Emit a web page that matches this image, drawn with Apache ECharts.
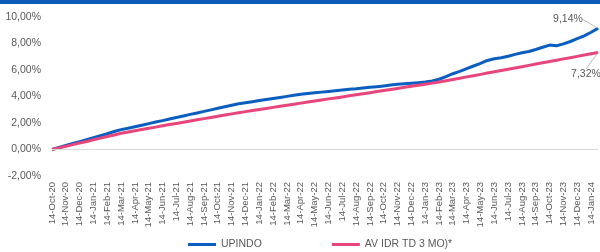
<!DOCTYPE html>
<html>
<head>
<meta charset="utf-8">
<script src="https://cdn.jsdelivr.net/npm/echarts@6/dist/echarts.min.js"></script>
<style>
  html, body { margin: 0; padding: 0; background: #fff; }
  #chart { width: 600px; height: 252px; }
</style>
</head>
<body>
<div id="chart"></div>
<script>
// monthly tick labels (one data point mid-month between each)
const months = [
  '14-Oct-20', '14-Nov-20', '14-Dec-20',
  '14-Jan-21', '14-Feb-21', '14-Mar-21', '14-Apr-21', '14-May-21', '14-Jun-21',
  '14-Jul-21', '14-Aug-21', '14-Sep-21', '14-Oct-21', '14-Nov-21', '14-Dec-21',
  '14-Jan-22', '14-Feb-22', '14-Mar-22', '14-Apr-22', '14-May-22', '14-Jun-22',
  '14-Jul-22', '14-Aug-22', '14-Sep-22', '14-Oct-22', '14-Nov-22', '14-Dec-22',
  '14-Jan-23', '14-Feb-23', '14-Mar-23', '14-Apr-23', '14-May-23', '14-Jun-23',
  '14-Jul-23', '14-Aug-23', '14-Sep-23', '14-Oct-23', '14-Nov-23', '14-Dec-23',
  '14-Jan-24'
]

const upindo = [
  0.00, 0.15, 0.30, 0.45, 0.59, 0.74, 0.89, 1.04, 1.19, 1.36,
  1.50, 1.60, 1.72, 1.83, 1.95, 2.07, 2.18, 2.30, 2.42, 2.53,
  2.65, 2.76, 2.88, 2.99, 3.11, 3.22, 3.34, 3.45, 3.53, 3.61,
  3.69, 3.77, 3.85, 3.93, 4.01, 4.09, 4.17, 4.23, 4.28, 4.33,
  4.38, 4.43, 4.49, 4.55, 4.58, 4.64, 4.69, 4.74, 4.80, 4.87,
  4.93, 4.96, 5.00, 5.04, 5.09, 5.18, 5.30, 5.50, 5.72, 5.90,
  6.10, 6.30, 6.50, 6.72, 6.85, 6.92, 7.04, 7.18, 7.30, 7.40,
  7.55, 7.72, 7.88, 7.83, 7.97, 8.15, 8.36, 8.58, 8.85, 9.14
]

const avTd = [
  0.00, 0.12, 0.24, 0.37, 0.49, 0.61, 0.73, 0.86, 0.98, 1.10,
  1.22, 1.32, 1.41, 1.51, 1.60, 1.69, 1.79, 1.88, 1.97, 2.06,
  2.15, 2.24, 2.33, 2.42, 2.51, 2.60, 2.69, 2.77, 2.86, 2.94,
  3.02, 3.10, 3.18, 3.26, 3.34, 3.42, 3.50, 3.58, 3.66, 3.74,
  3.82, 3.89, 3.97, 4.05, 4.13, 4.21, 4.29, 4.37, 4.45, 4.53,
  4.61, 4.69, 4.77, 4.85, 4.93, 5.01, 5.09, 5.19, 5.28, 5.38,
  5.48, 5.57, 5.67, 5.77, 5.87, 5.96, 6.06, 6.15, 6.25, 6.35,
  6.45, 6.54, 6.64, 6.74, 6.84, 6.93, 7.03, 7.13, 7.22, 7.32
]

const yTicks = { min: -2, max: 10, interval: 2 }

const FONT = 'Liberation Sans'
const TEXT = '#595959'
const BLUE = '#0A5EC0'
const PINK = '#E8457B'

const fmtPct = v => v.toFixed(2).replace('.', ',') + '%'

// category slots: label + unlabelled mid-month point
const xCats = months.flatMap(m => [m, ''])

function withEndLabel(values) {
  return values.map((v, i) => {
    if (i !== values.length - 1) return v
    return {
      value: v,
      symbol: 'circle',
      symbolSize: 1,
      label: { show: true, position: 'inside', formatter: p => fmtPct(p.value) }
    }
  })
}

const chart = echarts.init(document.getElementById('chart'))

chart.setOption({
  animation: false,
  textStyle: { fontFamily: FONT },
  graphic: [{
    type: 'rect',
    left: 0, top: 0,
    shape: { width: 600, height: 4 },
    style: { fill: '#0A5CB8' }
  }],
  grid: { left: 52, right: 2, top: 17, bottom: 76, containLabel: false },
  legend: {
    left: 183,
    top: 234,
    itemWidth: 28,
    itemHeight: 3,
    itemGap: 70,
    icon: 'rect',
    textStyle: { color: TEXT, fontSize: 10.5, fontFamily: FONT },
    data: ['UPINDO', 'AV IDR TD 3 MO)*']
  },
  xAxis: {
    type: 'category',
    data: xCats,
    boundaryGap: false,
    axisLine: { show: false },
    axisTick: { show: false },
    axisLabel: {
      interval: 0,
      rotate: 90,
      margin: 6,
      color: TEXT,
      fontSize: 9.5,
      fontFamily: FONT
    },
    splitLine: { show: false }
  },
  yAxis: {
    type: 'value',
    min: yTicks.min,
    max: yTicks.max,
    interval: yTicks.interval,
    axisLine: { show: false },
    axisTick: { show: false },
    splitLine: { show: false },
    axisLabel: {
      margin: 11,
      color: TEXT,
      fontSize: 10.5,
      fontFamily: FONT,
      formatter: v => fmtPct(v)
    }
  },
  series: [
    {
      name: 'UPINDO',
      type: 'line',
      data: withEndLabel(upindo),
      symbol: 'none',
      color: BLUE,
      lineStyle: { width: 3, color: BLUE, join: 'round' },
      label: { color: TEXT, fontSize: 10.5, fontFamily: FONT },
      labelLine: { show: true, lineStyle: { color: '#a6a6a6', width: 0.8 } },
      labelLayout: { dx: -30, dy: -9 },
      markLine: {
        silent: true,
        symbol: 'none',
        label: { show: false },
        lineStyle: { color: '#d9d9d9', width: 1, type: 'solid' },
        data: [{ yAxis: 0 }]
      },
      z: 2
    },
    {
      name: 'AV IDR TD 3 MO)*',
      type: 'line',
      data: withEndLabel(avTd),
      symbol: 'none',
      color: PINK,
      lineStyle: { width: 3, color: PINK, join: 'round' },
      label: { color: TEXT, fontSize: 10.5, fontFamily: FONT },
      labelLine: { show: true, lineStyle: { color: '#a6a6a6', width: 0.8 } },
      labelLayout: { dx: -12, dy: 22 },
      z: 3
    }
  ]
})
</script>
</body>
</html>
